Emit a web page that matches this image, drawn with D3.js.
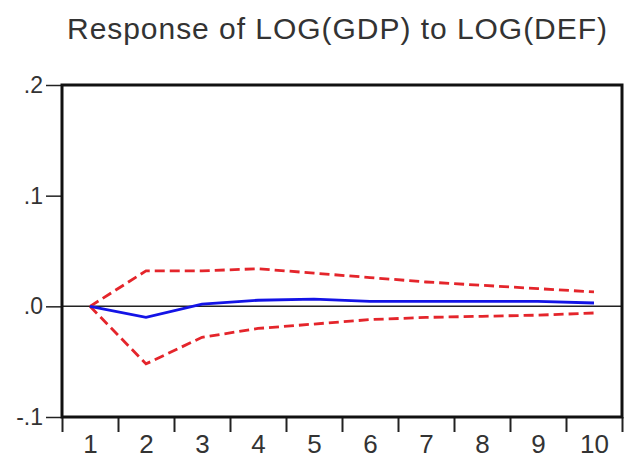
<!DOCTYPE html>
<html>
<head>
<meta charset="utf-8">
<script src="https://cdn.jsdelivr.net/npm/d3@7"></script>
<style>
  html, body { margin: 0; padding: 0; background: #fff; }
  svg { display: block; font-family: "Liberation Sans", Arial, sans-serif; }
</style>
</head>
<body>
<div id="chart"></div>
<script>
// Impulse response of LOG(GDP) to LOG(DEF), with +/- 2 S.E. bands
const periods = [1, 2, 3, 4, 5, 6, 7, 8, 9, 10];
const response = [0, -0.010, 0.002, 0.0055, 0.0065, 0.0045, 0.0045, 0.0045, 0.0045, 0.003];
const upperBand = [0, 0.032, 0.032, 0.034, 0.030, 0.026, 0.022, 0.019, 0.016, 0.013];
const lowerBand = [0, -0.052, -0.028, -0.020, -0.016, -0.012, -0.010, -0.009, -0.008, -0.006];
const yTicks = [-0.1, 0, 0.1, 0.2];
const yTickLabels = ["-.1", ".0", ".1", ".2"];
const title = "Response of LOG(GDP) to LOG(DEF)";

const W = 625, H = 461;
const plot = { left: 62, right: 622, top: 85, bottom: 417 };

const svg = d3.select("#chart").append("svg")
  .attr("width", W)
  .attr("height", H);

// x: one slot per period, points in the middle of each slot
const x = d3.scalePoint().domain(periods).range([plot.left, plot.right]).padding(0.5);
const xEdge = d3.scaleLinear().domain([0.5, 10.5]).range([plot.left, plot.right]);
const y = d3.scaleLinear().domain([-0.1, 0.2]).range([plot.bottom, plot.top]);

// Title
svg.append("text")
  .attr("x", 337)
  .attr("y", 39)
  .attr("text-anchor", "middle")
  .attr("textLength", 540)
  .attr("lengthAdjust", "spacing")
  .style("font-size", "30px")
  .style("fill", "#333")
  .text(title);

// y axis ticks + labels
const yAxis = d3.axisLeft(y)
  .tickValues(yTicks)
  .tickSize(16)
  .tickPadding(3)
  .tickFormat((d, i) => yTickLabels[i]);
const yAxisG = svg.append("g")
  .attr("transform", `translate(${plot.left},0)`)
  .call(yAxis);
yAxisG.select(".domain").remove();
yAxisG.selectAll(".tick line").attr("stroke", "#222").attr("stroke-width", 1.5);
yAxisG.selectAll(".tick text")
  .style("font-size", "23px")
  .style("fill", "#333")
  .attr("font-family", "Liberation Sans, Arial, sans-serif");

// x axis: tick marks on slot edges
const xTickAxis = d3.axisBottom(xEdge)
  .tickValues(d3.range(0.5, 11, 1))
  .tickSize(15)
  .tickFormat("");
const xTickG = svg.append("g")
  .attr("transform", `translate(0,${plot.bottom})`)
  .call(xTickAxis);
xTickG.select(".domain").remove();
xTickG.selectAll(".tick line").attr("stroke", "#222").attr("stroke-width", 2);

// x labels in the middle of each slot
const xLabelAxis = d3.axisBottom(x).tickSize(0).tickPadding(18);
const xLabelG = svg.append("g")
  .attr("transform", `translate(0,${plot.bottom})`)
  .call(xLabelAxis);
xLabelG.select(".domain").remove();
xLabelG.selectAll(".tick text")
  .style("font-size", "26px")
  .style("fill", "#333")
  .attr("font-family", "Liberation Sans, Arial, sans-serif");

// zero line
svg.append("line")
  .attr("x1", plot.left)
  .attr("x2", plot.right)
  .attr("y1", y(0))
  .attr("y2", y(0))
  .attr("stroke", "#222")
  .attr("stroke-width", 1.5);

const line = d3.line()
  .x((d, i) => x(periods[i]))
  .y(d => y(d));

// confidence bands
[upperBand, lowerBand].forEach(band => {
  svg.append("path")
    .datum(band)
    .attr("d", line)
    .attr("fill", "none")
    .attr("stroke", "#e4252b")
    .attr("stroke-width", 2.8)
    .attr("stroke-dasharray", "10,5");
});

// response
svg.append("path")
  .datum(response)
  .attr("d", line)
  .attr("fill", "none")
  .attr("stroke", "#1414e6")
  .attr("stroke-width", 2.8);

// frame
svg.append("rect")
  .attr("x", plot.left)
  .attr("y", plot.top)
  .attr("width", plot.right - plot.left)
  .attr("height", plot.bottom - plot.top)
  .attr("fill", "none")
  .attr("stroke", "#111")
  .attr("stroke-width", 3);
</script>
</body>
</html>
